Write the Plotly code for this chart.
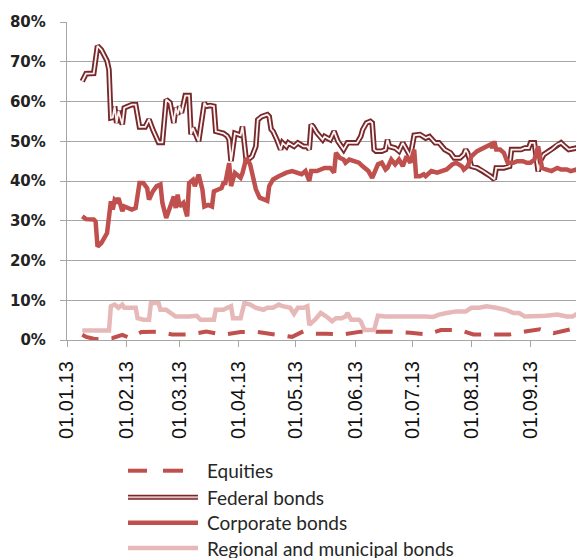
import plotly.graph_objects as go

# ---------------- data ----------------
fed_dates = ["2013-01-09","2013-01-11","2013-01-15","2013-01-17","2013-01-19","2013-01-22","2013-01-23","2013-01-24",
             "2013-01-25","2013-01-26","2013-01-27","2013-01-28","2013-01-30","2013-01-31","2013-02-02","2013-02-04",
             "2013-02-06","2013-02-08","2013-02-11","2013-02-13","2013-02-15","2013-02-18","2013-02-20","2013-02-22",
             "2013-02-24","2013-02-26","2013-02-27","2013-02-28","2013-03-01","2013-03-02","2013-03-04","2013-03-06",
             "2013-03-07","2013-03-08","2013-03-11","2013-03-14","2013-03-15","2013-03-17","2013-03-19","2013-03-20",
             "2013-03-24","2013-03-26","2013-03-27","2013-03-28","2013-03-30","2013-04-02","2013-04-03","2013-04-05",
             "2013-04-08","2013-04-10","2013-04-11","2013-04-13","2013-04-16","2013-04-17","2013-04-18","2013-04-19",
             "2013-04-21","2013-04-23","2013-04-24","2013-04-26","2013-04-27","2013-04-30","2013-05-02","2013-05-05",
             "2013-05-07","2013-05-08","2013-05-09","2013-05-10","2013-05-12","2013-05-15","2013-05-16","2013-05-19",
             "2013-05-21","2013-05-23","2013-05-26","2013-05-28","2013-05-30","2013-06-02","2013-06-04","2013-06-05",
             "2013-06-07","2013-06-09","2013-06-10","2013-06-11","2013-06-12","2013-06-15","2013-06-17","2013-06-18",
             "2013-06-19","2013-06-22","2013-06-24","2013-06-26","2013-06-28","2013-06-30","2013-07-02","2013-07-05",
             "2013-07-08","2013-07-10","2013-07-13","2013-07-15","2013-07-18","2013-07-21","2013-07-23","2013-07-26",
             "2013-07-28","2013-07-29","2013-07-30","2013-08-01","2013-08-04","2013-08-07","2013-08-11","2013-08-13",
             "2013-08-14","2013-08-18","2013-08-21","2013-08-22","2013-08-27","2013-08-29","2013-08-31","2013-09-01",
             "2013-09-03","2013-09-05","2013-09-06","2013-09-08","2013-09-12","2013-09-15","2013-09-17","2013-09-19",
             "2013-09-21","2013-09-25","2013-09-27","2013-09-29"]
fed_vals = [65.1,67.0,67.1,74.0,73.0,70.2,68.0,55.9,
            56.0,58.8,54.6,57.6,54.2,58.4,58.8,59.2,
            59.2,53.6,53.6,55.5,52.9,49.7,49.7,60.5,
            59.7,54.6,58.4,56.7,58.8,57.1,61.5,61.5,
            51.7,53.4,50.0,59.7,58.8,59.0,58.8,52.5,
            52.0,51.3,50.4,45.0,52.0,51.5,53.7,45.0,
            46.2,48.7,55.4,56.2,56.7,56.2,53.0,52.5,
            50.4,47.9,49.6,48.7,49.6,48.7,49.6,48.7,
            48.7,47.9,54.2,53.7,52.1,50.4,51.2,50.4,
            52.5,50.0,47.9,49.6,49.6,49.6,51.2,52.9,
            54.6,55.0,54.6,47.9,47.5,47.5,47.9,50.4,
            48.7,48.3,47.5,49.6,47.9,46.2,51.5,51.7,
            50.8,51.2,49.6,49.6,47.9,47.1,45.8,45.8,
            46.7,47.9,47.1,43.7,43.3,42.5,41.2,40.4,
            43.3,43.3,43.7,47.9,47.9,48.3,48.3,49.6,
            49.6,42.4,45.0,46.7,47.9,49.2,49.6,48.7,
            47.9,48.3,48.7,49.2]

corp_dates = ["2013-01-09","2013-01-11","2013-01-15","2013-01-16","2013-01-17","2013-01-19","2013-01-22","2013-01-23",
              "2013-01-24","2013-01-25","2013-01-26","2013-01-27","2013-01-28","2013-01-30","2013-01-31","2013-02-04",
              "2013-02-06","2013-02-08","2013-02-10","2013-02-12","2013-02-13","2013-02-15","2013-02-17","2013-02-19",
              "2013-02-20","2013-02-22","2013-02-24","2013-02-26","2013-02-27","2013-02-28","2013-03-01","2013-03-03",
              "2013-03-05","2013-03-06","2013-03-08","2013-03-09","2013-03-11","2013-03-13","2013-03-14","2013-03-16",
              "2013-03-18","2013-03-19","2013-03-21","2013-03-23","2013-03-24","2013-03-25","2013-03-27","2013-03-28",
              "2013-03-30","2013-04-01","2013-04-02","2013-04-03","2013-04-05","2013-04-07","2013-04-08","2013-04-10",
              "2013-04-12","2013-04-15","2013-04-16","2013-04-17","2013-04-19","2013-04-22","2013-04-24","2013-04-26",
              "2013-04-29","2013-05-01","2013-05-04","2013-05-06","2013-05-08","2013-05-09","2013-05-12","2013-05-14",
              "2013-05-16","2013-05-19","2013-05-20","2013-05-21","2013-05-22","2013-05-24","2013-05-26","2013-05-27",
              "2013-05-29","2013-06-01","2013-06-03","2013-06-05","2013-06-08","2013-06-10","2013-06-11","2013-06-13",
              "2013-06-15","2013-06-17","2013-06-18","2013-06-20","2013-06-22","2013-06-24","2013-06-25","2013-06-26",
              "2013-06-28","2013-06-29","2013-06-30","2013-07-02","2013-07-03","2013-07-05","2013-07-07","2013-07-08",
              "2013-07-11","2013-07-14","2013-07-16","2013-07-19","2013-07-22","2013-07-24","2013-07-27","2013-07-28",
              "2013-07-30","2013-08-01","2013-08-04","2013-08-06","2013-08-09","2013-08-11","2013-08-12","2013-08-13",
              "2013-08-14","2013-08-16","2013-08-18","2013-08-20","2013-08-23","2013-08-25","2013-08-28","2013-08-30",
              "2013-09-01","2013-09-03","2013-09-05","2013-09-07","2013-09-09","2013-09-12","2013-09-15","2013-09-17",
              "2013-09-20","2013-09-22","2013-09-25","2013-09-29"]
corp_vals = [31.1,30.4,30.3,29.8,23.5,24.4,26.9,30.3,
             34.9,32.8,35.3,34.9,35.7,32.4,33.6,32.8,
             33.2,39.5,39.5,38.2,35.3,37.4,38.7,39.1,
             34.5,30.7,33.6,36.1,33.2,36.6,33.6,34.5,
             31.1,39.5,40.3,38.7,41.6,37.8,33.6,34.0,
             33.6,37.4,37.8,38.2,39.5,39.5,44.5,38.7,
             42.0,41.2,40.8,42.0,45.8,44.2,41.7,37.9,
             35.8,35.0,35.0,38.7,40.4,41.2,41.7,42.1,
             42.5,42.1,41.7,42.5,40.0,42.5,42.5,42.9,
             43.3,43.3,42.5,42.1,47.1,45.8,45.4,44.6,
             45.4,45.0,44.6,43.7,42.5,40.8,42.1,44.2,
             44.6,42.9,43.3,45.4,44.2,45.4,44.6,43.7,
             46.2,45.4,44.6,47.9,41.2,41.2,41.7,41.2,
             42.5,42.1,42.5,42.9,44.2,44.6,43.7,42.9,
             43.7,46.2,47.5,47.9,48.7,49.2,48.3,50.0,
             47.9,47.9,47.1,44.6,44.6,45.0,45.0,44.6,
             44.6,45.4,48.7,43.3,42.9,42.5,43.3,42.9,
             42.9,42.5,42.9,42.5]

reg_dates = ["2013-01-09","2013-01-23","2013-01-24","2013-01-26","2013-01-28","2013-01-30","2013-01-31","2013-02-04",
             "2013-02-06","2013-02-07","2013-02-10","2013-02-13","2013-02-14","2013-02-18","2013-02-19","2013-02-22",
             "2013-02-24","2013-02-27","2013-03-06","2013-03-10","2013-03-12","2013-03-19","2013-03-20","2013-03-24",
             "2013-03-26","2013-03-28","2013-03-29","2013-04-02","2013-04-04","2013-04-07","2013-04-10","2013-04-14",
             "2013-04-16","2013-04-19","2013-04-22","2013-04-24","2013-04-28","2013-04-30","2013-05-02","2013-05-05",
             "2013-05-07","2013-05-08","2013-05-11","2013-05-14","2013-05-17","2013-05-20","2013-05-22","2013-05-25",
             "2013-05-27","2013-05-28","2013-05-30","2013-06-03","2013-06-04","2013-06-06","2013-06-11","2013-06-13",
             "2013-06-17","2013-06-23","2013-06-26","2013-07-01","2013-07-05","2013-07-08","2013-07-12","2013-07-15",
             "2013-07-19","2013-07-24","2013-07-29","2013-08-01","2013-08-05","2013-08-09","2013-08-14","2013-08-19",
             "2013-08-23","2013-08-26","2013-08-29","2013-09-02","2013-09-06","2013-09-09","2013-09-15","2013-09-20",
             "2013-09-23","2013-09-26","2013-09-29"]
reg_vals = [2.4,2.4,8.5,8.9,8.1,8.9,8.1,8.1,
            8.1,5.5,5.1,5.1,9.3,9.3,7.6,7.6,
            6.8,5.9,5.9,6.1,5.1,5.1,7.6,7.6,
            8.1,8.5,5.5,5.5,9.3,8.9,8.1,7.6,
            8.1,8.1,8.9,8.5,8.1,6.6,8.1,8.1,
            8.5,3.8,5.1,6.8,5.9,4.7,5.5,5.5,
            5.9,6.8,5.1,5.1,4.7,2.5,2.5,6.1,
            5.9,5.9,6.1,6.1,5.9,5.9,5.8,6.4,
            6.8,7.2,7.2,8.1,8.1,8.5,8.1,7.6,
            6.8,6.8,5.9,5.9,6.1,6.1,6.4,5.9,
            5.9,6.8,6.4]

eq_dates = ["2013-01-09","2013-01-11","2013-01-15","2013-01-18","2013-01-25","2013-01-30","2013-02-03","2013-02-09",
            "2013-02-17","2013-02-25","2013-03-07","2013-03-15","2013-03-24","2013-04-02","2013-04-11","2013-04-19",
            "2013-04-29","2013-05-05","2013-05-10","2013-05-17","2013-05-26","2013-06-04","2013-06-12","2013-06-20",
            "2013-06-30","2013-07-09","2013-07-16","2013-07-26","2013-08-02","2013-08-12","2013-08-21","2013-08-30",
            "2013-09-06","2013-09-13","2013-09-22","2013-09-25","2013-09-29"]
eq_vals = [1.3,0.8,0.3,0.2,0.5,1.3,0.5,2.0,
           2.1,1.4,1.4,2.1,1.3,2.0,2.0,1.4,
           0.8,2.2,1.6,1.6,1.4,2.1,2.1,2.1,
           1.8,1.4,2.5,2.5,1.4,1.4,1.4,2.2,
           2.7,1.7,2.7,3.3,3.0]

series_names = ["Equities", "Federal bonds", "Corporate bonds", "Regional and municipal bonds"]

# ---------------- styling ----------------
# The page body has an 8px default margin, so the figure is shifted by OFF px;
# target positions below are in window pixels.
OFF = 8
W, H = 584, 558
PLOT_LEFT, PLOT_TOP, PLOT_BOTTOM = 67, 22, 340          # window px
ML = PLOT_LEFT - OFF
MT = PLOT_TOP - OFF
MB = H - (PLOT_BOTTOM - OFF)
MR = 0
PW, PH = W - ML - MR, H - MT - MB

RED = "#C0504D"
PINK = "#E6B9B8"
MAROON = "#76282A"
GRID = "#A6A6A6"

fig = go.Figure()
fig.add_trace(go.Scatter(x=eq_dates, y=[v / 100 for v in eq_vals], mode="lines",
                         line=dict(color=RED, width=4, dash="17px,13px"), name=series_names[0]))
fig.add_trace(go.Scatter(x=fed_dates, y=[v / 100 for v in fed_vals], mode="lines",
                         line=dict(color=MAROON, width=5.5), name=series_names[1]))
fig.add_trace(go.Scatter(x=fed_dates, y=[v / 100 for v in fed_vals], mode="lines",
                         line=dict(color="#FDF3F3", width=1.8), name=series_names[1] + " inner"))
fig.add_trace(go.Scatter(x=corp_dates, y=[v / 100 for v in corp_vals], mode="lines",
                         line=dict(color=RED, width=4.5), name=series_names[2]))
fig.add_trace(go.Scatter(x=reg_dates, y=[v / 100 for v in reg_vals], mode="lines",
                         line=dict(color=PINK, width=4.5), name=series_names[3]))

fig.update_layout(
    width=W, height=H,
    margin=dict(l=ML, r=MR, t=MT, b=MB, pad=0, autoexpand=False),
    paper_bgcolor="white", plot_bgcolor="white",
    showlegend=False,
    xaxis=dict(
        type="date", range=["2013-01-01", "2013-10-03 05:00"], automargin=False,
        tick0="2013-01-01", dtick="M1", tickformat="%d.%m.%y",
        tickangle=-90, ticks="outside", ticklen=6, tickcolor=GRID, tickwidth=1.3,
        showline=True, linecolor=GRID, linewidth=1.3, showgrid=False, zeroline=False,
        tickfont=dict(family="Liberation Sans, Arial, sans-serif", size=20, color="#111111"),
        ticklabelstandoff=6,
    ),
    yaxis=dict(
        range=[0, 0.8], dtick=0.1, tickformat=".0%", automargin=False,
        ticks="outside", ticklen=6, tickcolor=GRID, tickwidth=1.3,
        showline=True, linecolor=GRID, linewidth=1.3,
        showgrid=True, gridcolor=GRID, gridwidth=1.3, zeroline=False,
        tickfont=dict(family="DejaVu Sans", size=15, color="#222222", weight="bold"),
        ticklabelstandoff=11,
    ),
)

# ---------------- custom legend (long line samples like the original) ----------------
def px(xw, yw):
    """window pixel -> paper coordinate"""
    xf, yf = xw - OFF, yw - OFF
    return (xf - ML) / PW, (MT + PH - yf) / PH

legend_rows = [470.7, 497.3, 522.7, 548.0]
x0, x1, xt = 128, 198, 205
shapes = []
annotations = []
for i, name in enumerate(series_names):
    yrow = legend_rows[i]
    a, b = px(x0, yrow)
    c, _ = px(x1, yrow)
    if i == 0:
        for s0, s1 in [(128, 147), (163, 183)]:
            p0, _ = px(s0, yrow)
            p1, _ = px(s1, yrow)
            shapes.append(dict(type="line", xref="paper", yref="paper", x0=p0, x1=p1, y0=b, y1=b,
                               line=dict(color=RED, width=4)))
    elif i == 1:
        shapes.append(dict(type="line", xref="paper", yref="paper", x0=a, x1=c, y0=b, y1=b,
                           line=dict(color=MAROON, width=5)))
        shapes.append(dict(type="line", xref="paper", yref="paper", x0=a, x1=c, y0=b, y1=b,
                           line=dict(color=PINK, width=2)))
    elif i == 2:
        shapes.append(dict(type="line", xref="paper", yref="paper", x0=a, x1=c, y0=b, y1=b,
                           line=dict(color=RED, width=4.5)))
    else:
        shapes.append(dict(type="line", xref="paper", yref="paper", x0=a, x1=c, y0=b, y1=b,
                           line=dict(color=PINK, width=4.5)))
    tx, _ = px(xt, yrow)
    annotations.append(dict(xref="paper", yref="paper", x=tx, y=b, text=name, showarrow=False,
                            xanchor="left", yanchor="middle",
                            font=dict(family="Lato, Carlito, sans-serif", size=19, color="#262626")))

fig.update_layout(shapes=shapes, annotations=annotations)

fig.write_html("out.html")
